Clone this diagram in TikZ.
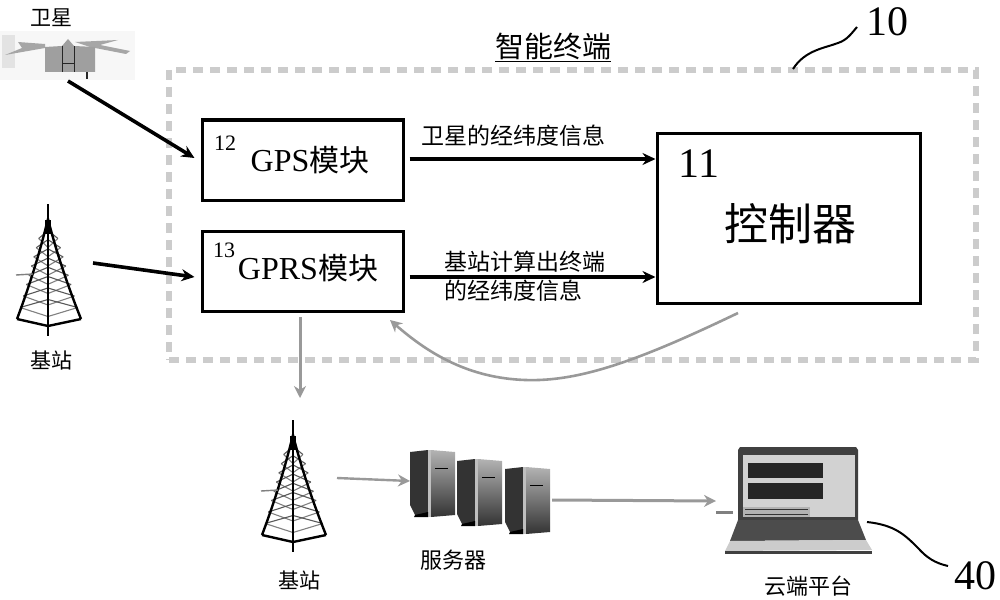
\documentclass[tikz,border=0pt]{standalone}
\usepackage{fontspec}
\setmainfont{Liberation Serif}
\newfontfamily\cjk{Noto Sans CJK SC}
\usetikzlibrary{arrows.meta}
\tikzset{
  zh/.style={inner sep=0pt, font=\cjk\fontsize{#1}{#1}\selectfont},
  num/.style={inner sep=0pt, font=\fontsize{#1}{#1}\selectfont},
  modbox/.style={draw, line width=3pt, inner sep=0pt},
  blk/.style={line width=3.6pt, -{Stealth[length=13pt,width=12pt]}},
  gry/.style={line width=3pt, gray!80, -{Stealth[length=12pt,width=12pt]}},
  pics/tower/.style={code={
    %lattice
    \foreach \t in {0.3,0.38,0.46,0.54,0.62,0.7,0.8,0.9} {
      \draw[gray, line width=1.1pt] (-31*\t,115*\t) -- (0,115*\t+9);
      \draw[gray, line width=1.1pt] (33*\t,115*\t) -- (0,115*\t+9);
      \draw[gray!70!black, line width=1.1pt] (-31*\t,115*\t) -- (0,115*\t-8);
      \draw[gray!70!black, line width=1.1pt] (33*\t,115*\t) -- (0,115*\t-8);
    }
    %legs
    \draw[line width=2.4pt] (-31,115) .. controls (-14,70) and (-5,35) .. (0,15) .. controls (5,35) and (15,70) .. (33,115);
    \draw[line width=2.4pt] (-31,115) -- (0,122) -- (33,115);
    \draw[line width=2pt] (0,0) -- (0,132);
    \fill (-3,16) rectangle (3,30);
    \draw[gray, line width=1.4pt] (-32,71) -- (-15,70);
  }},
  pics/server/.style={code={
    \fill[black!80] (0,0) -- (18,-2) -- (18,65) -- (5,63) -- (0,53) -- cycle;
    \fill[gray!50] (18,-2) -- (21,-2) -- (21,65) -- (18,65) -- cycle;
    \shade[top color=gray!60, bottom color=black!80] (21,-2) -- (45,0) -- (45,63) -- (21,65) -- cycle;
    \fill[black] (5,63) -- (18,60) -- (18,65) -- (4,65) -- cycle;
    \draw[black, line width=0.8pt] (25,16) -- (38,16);
  }}
}
\begin{document}
\begin{tikzpicture}[x=1pt,y=-1pt]
\useasboundingbox (0,0) rectangle (1000,599);

%frame
\node[draw=gray!40, line width=6pt, dash pattern=on 10pt off 7pt, minimum width=807pt, minimum height=290pt, inner sep=0pt] (term) at (572.5,215) {};
\node[zh=29] (termlab) at (553,47) {\underline{智能终端}};

%satellite
\fill[gray!6] (0,31) rectangle (135,80);
\fill[gray!22] (2,35) rectangle (15,68);
\fill[gray!70] (18,42) -- (45,44) -- (45,48) -- (5,55) -- (22,48) -- cycle;
\fill[gray!70] (75,42) -- (118,40) -- (100,45) -- (130,51) -- (126,54) -- (90,47) -- cycle;
\fill[gray!75] (45,47) -- (62,46) -- (68,39) -- (74,46) -- (95,47) -- (95,72) -- (45,72) -- cycle;
\draw[gray!30!black, line width=0.8pt] (62,46) -- (62,72) (74,46) -- (74,72) (62,63) -- (74,63);
\draw[gray!30!black, line width=1.4pt] (87,72) -- (87,79);
\coordinate (satout) at (68,81);
\node[zh=21] (satlab) at (51,18) {卫星};

%towers
\pic at (48,204) {tower};
\pic at (293,420) {tower};
\coordinate (towout) at (93,263);
\coordinate (towoutb) at (337,478);
\node[zh=21] (towlab) at (51,360) {基站};
\node[zh=21] (towlabb) at (299,580) {基站};

%modules
\node[modbox, minimum width=201pt, minimum height=80pt] (gps) at (302.5,160) {};
\node[modbox, minimum width=201pt, minimum height=80pt] (gprs) at (302.5,271.5) {};
\node[modbox, minimum width=263pt, minimum height=170pt] (ctrl) at (788.5,218) {};
\node[num=22] (gpsnum) at (225,143) {12};
\node[num=22] (gprsnum) at (224,250) {13};
\node[num=32] (gpslab) at (310,160) {GPS{\cjk\fontsize{30}{30}\selectfont 模块}};
\node[num=32] (gprslab) at (308,268) {GPRS{\cjk\fontsize{30}{30}\selectfont 模块}};
\node[num=42] (ctrlnum) at (699,164) {11};
\node[zh=44] (ctrllab) at (790,224) {控制器};

%servers and laptop
\pic at (410,452) {server};
\pic at (457,461) {server};
\pic at (505,469) {server};
\coordinate (srvin) at (410,481);
\coordinate (srvout) at (552,500);
\node[zh=22] (srvlab) at (453,560) {服务器};

\fill[black!75] (738,450) -- (740,447) -- (856,447) -- (858,450) -- (858,520) -- (738,520) -- cycle;
\fill[gray!35] (743,455) rectangle (855,517);
\fill[black!85] (748,463) rectangle (823,478);
\fill[black!85] (748,483) rectangle (823,499);
\fill[gray!60] (743,507) rectangle (810,517);
\draw[black!80, line width=1pt] (745,509) -- (808,509) (745,514) -- (808,514);
\fill[black!70] (738,520) -- (858,520) -- (866,540) -- (730,541) -- cycle;
\fill[gray!40] (730,541) -- (866,540) -- (872,550) -- (725,551) -- cycle;
\fill[black!75] (725,551) rectangle (872,554);
\fill[gray] (716,511) rectangle (733,514);
\coordinate (lapin) at (716,501);
\node[zh=22] (laplab) at (808,586) {云端平台};

%arrows
\draw[blk] (satout) -- ([xshift=-6pt,yshift=2pt]gps.west);
\draw[blk] (towout) -- ([xshift=-6pt,yshift=-5.5pt]gprs.west);
\draw[blk] ([xshift=5pt,yshift=1pt]gps.east) -- ([yshift=1pt]gps.east -| ctrl.west);
\draw[blk] ([xshift=5pt,yshift=-5.5pt]gprs.east) -- ([yshift=-5.5pt]gprs.east -| ctrl.west);
\node[zh=23] (infoa) at (513,136) {卫星的经纬度信息};
\node[zh=23] (infob) at (525,262) {基站计算出终端};
\node[zh=23, anchor=west] (infoc) at (infob.west |- 0,291) {的经纬度信息};
\draw[gry] ([yshift=-4pt,xshift=-2.5pt]gprs.south) -- ++(0,81);
\draw[gry, line width=2.4pt] (towoutb) -- (srvin);
\draw[gry] (srvout) -- (lapin);
\coordinate (fbout) at (738,313);
\coordinate (fbmid) at (525,380);
\coordinate (fbin) at (390,320);
\draw[gry, line width=2.6pt] (fbout) .. controls (640,360) and (580,382) .. (fbmid) .. controls (470,378) and (430,355) .. (fbin);

%leaders
\node[num=42] (tenlab) at (887,22) {10};
\node[num=42] (fortylab) at (975,576) {40};
\coordinate (tena) at (793,69);
\coordinate (tenb) at (857,27);
\coordinate (forta) at (867,522);
\coordinate (fortb) at (948,566);
\draw[line width=2pt] (tena) .. controls (805,50) and (825,48) .. (838,43) .. controls (847,40) and (851,34) .. (tenb);
\draw[line width=2pt] (forta) .. controls (895,525) and (905,535) .. (918,548) .. controls (927,558) and (935,563) .. (fortb);
\end{tikzpicture}
\end{document}
